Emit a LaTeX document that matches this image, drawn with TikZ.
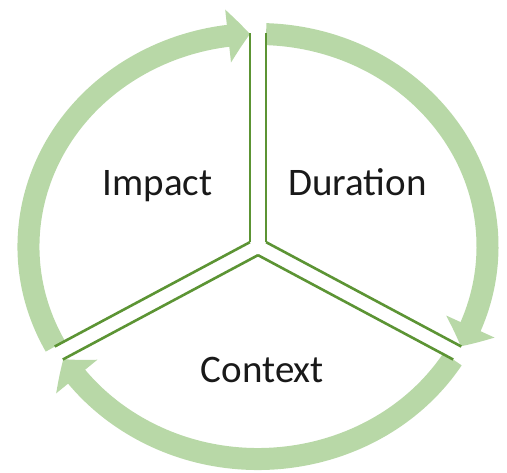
\documentclass[tikz,border=0pt]{standalone}
\usepackage{fontspec}
\setmainfont{Carlito}
\usetikzlibrary{calc,positioning,arrows.meta,bending}
\definecolor{bandgreen}{RGB}{184,216,167}
\definecolor{edgegreen}{RGB}{92,148,52}

\begin{document}
\begin{tikzpicture}
    [x=0.5pt,y=0.5pt,
    word/.style={
      text=black!90,
      font=\fontsize{19.5}{22}\selectfont,
      anchor=base,
      inner sep=0pt
    },
    band/.style={
      draw=bandgreen,
      line width=11pt,
      -{Triangle[length=11pt,width=26pt,bend]}
    },
    edge/.style={
      draw=edgegreen,
      line width=1.3pt
    }
  ]
    \useasboundingbox (0,0) rectangle (507,472);
    \coordinate (O) at (258,225.5);
    \begin{scope}[shift={(O)},xscale=1.08]
      \draw[band] (208:212.5) arc[start angle=208,end angle=92,radius=212.5];
      \draw[band] (88:212.5) arc[start angle=88,end angle=-28,radius=212.5];
      \draw[band] (-32:212.5) arc[start angle=-32,end angle=-148,radius=212.5];
      \foreach \a in {90,-30,210}
        \foreach \s in {7.5,-7.5}
          \draw[edge] ({\s*cos(\a+90)+4.33*cos(\a)},{\s*sin(\a+90)+4.33*sin(\a)})
            -- ({\s*cos(\a+90)+213*cos(\a)},{\s*sin(\a+90)+213*sin(\a)});
    \end{scope}
    \draw (157.5,277) node[word] (IMP) {Impact};
	\draw (357.5,277) node[word] (DUR) {Duration};
	\draw (262.5,90) node[word] (CTX) {Context};
\end{tikzpicture}
\end{document}
